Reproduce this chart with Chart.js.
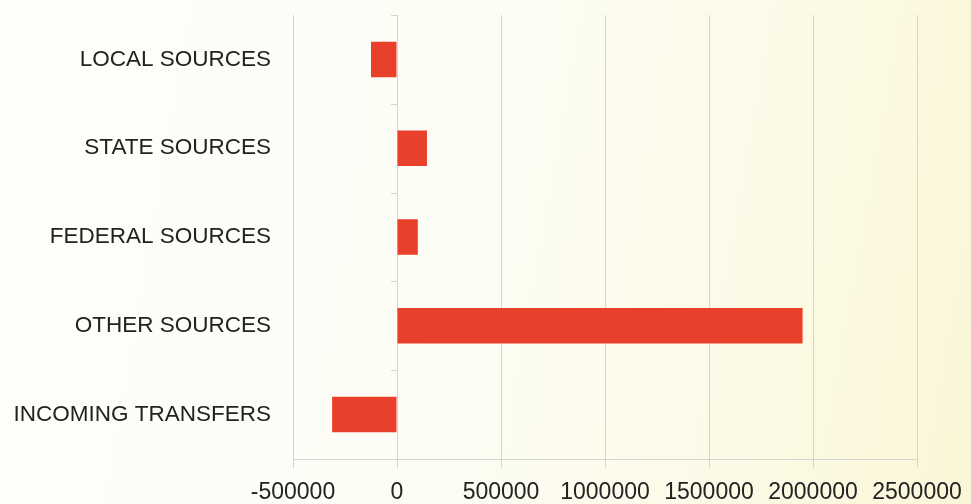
<!DOCTYPE html>
<html>
<head>
<meta charset="utf-8">
<title>Revenue sources</title>
<script src="https://cdn.jsdelivr.net/npm/chart.js@4/dist/chart.umd.min.js"></script>
<style>
    html, body {
        margin: 0;
        padding: 0;
        width: 971px;
        height: 504px;
        overflow: hidden;
        background: linear-gradient(100deg, #fefefb 0%, #fdfdf6 45%, #fcf9e2 85%, #fbf6d6 100%);
    }
    .chart-wrap {
        position: relative;
        width: 971px;
        height: 504px;
    }
</style>
</head>
<body>
<div class="chart-wrap">
    <canvas id="sourcesChart"></canvas>
</div>
<script>
// Categories and amounts
const categories = ['LOCAL SOURCES', 'STATE SOURCES', 'FEDERAL SOURCES', 'OTHER SOURCES', 'INCOMING TRANSFERS'];
const amounts = [-125000, 144000, 100000, 1950000, -312000];
const xTicks = [-500000, 0, 500000, 1000000, 1500000, 2000000, 2500000];

const gridColor = '#d4d4d0';
const fontFamily = "'Liberation Sans', Arial, sans-serif";

// Short tick marks on the zero line between categories
const zeroLineTicks = {
    id: 'zeroLineTicks',
    afterDatasetsDraw(chart) {
        const x = chart.scales.x;
        const y = chart.scales.y;
        const x0 = x.getPixelForValue(0);
        const band = (y.bottom - y.top) / categories.length;
        const ctx = chart.ctx;
        ctx.save();
        ctx.strokeStyle = gridColor;
        ctx.lineWidth = 1;
        for (let i = 0; i <= categories.length; i++) {
            const py = Math.round(y.top + i * band) + 0.5;
            ctx.beginPath();
            ctx.moveTo(x0 - 6, py);
            ctx.lineTo(x0, py);
            ctx.stroke();
        }
        ctx.restore();
    }
};

document.addEventListener('DOMContentLoaded', function() {
    const ctx = document.getElementById('sourcesChart');
    new Chart(ctx, {
        type: 'bar',
        data: {
            labels: categories,
            datasets: [{
                data: amounts,
                backgroundColor: '#e8402a',
                borderWidth: 0,
                categoryPercentage: 0.8,
                barPercentage: 0.5
            }]
        },
        options: {
            indexAxis: 'y',
            responsive: true,
            maintainAspectRatio: false,
            animation: false,
            layout: {
                padding: { top: 15, right: 0, left: 0, bottom: 0 }
            },
            plugins: {
                legend: { display: false },
                tooltip: { enabled: false }
            },
            scales: {
                x: {
                    min: xTicks[0],
                    max: xTicks[xTicks.length - 1],
                    afterBuildTicks: function(scale) {
                        scale.ticks = xTicks.map(v => ({ value: v }));
                    },
                    afterFit: function(scale) {
                        scale.height = 45;
                        scale.paddingRight = 54;
                    },
                    grid: {
                        color: gridColor,
                        lineWidth: 1,
                        tickLength: 9,
                        drawTicks: true
                    },
                    border: { color: gridColor },
                    ticks: {
                        color: '#222',
                        font: { family: fontFamily, size: 23 },
                        padding: 11,
                        maxRotation: 0,
                        autoSkip: false,
                        callback: function(value) {
                            return String(value);
                        }
                    }
                },
                y: {
                    afterFit: function(scale) {
                        scale.width = 293;
                        scale.paddingTop = 0;
                        scale.paddingBottom = 0;
                    },
                    grid: {
                        display: false,
                        drawTicks: false
                    },
                    border: { display: false },
                    ticks: {
                        color: '#222',
                        font: { family: fontFamily, size: 22.5 },
                        padding: 22
                    }
                }
            }
        },
        plugins: [zeroLineTicks]
    });
});
</script>
</body>
</html>
